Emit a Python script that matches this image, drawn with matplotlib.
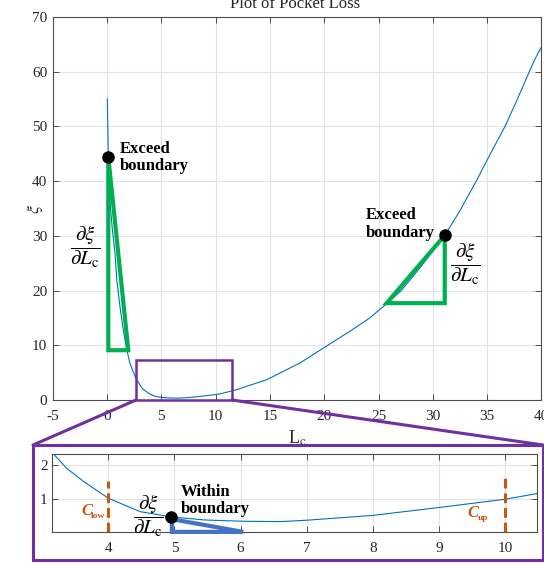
import matplotlib
matplotlib.use("Agg")
import matplotlib.pyplot as plt
from matplotlib.patches import Rectangle, Polygon, ConnectionPatch

plt.rcParams['font.family'] = ['Liberation Serif', 'DejaVu Serif']
plt.rcParams['mathtext.fontset'] = 'stix'
plt.rcParams['axes.unicode_minus'] = False

# ---- data ----
Lc = [0.03, 0.12, 0.28, 0.5, 0.74, 0.9, 1.2, 1.5, 1.8, 2.1, 2.6, 3.15, 3.37, 3.63,
      4.0, 4.48, 4.94, 5.44, 5.7, 6.04, 6.6, 7.0, 8.0, 9.0, 10.0, 10.5, 11.8, 14.7,
      17.8, 20.8, 22.4, 24.2, 25.75, 27.1, 29.0, 31.1, 32.5, 34.0, 35.3, 36.65,
      37.7, 38.8, 39.4, 40.0]
xi = [55.0, 44.4, 36.0, 31.0, 26.8, 22.0, 17.0, 12.8, 9.4, 6.8, 4.2, 2.36, 1.9, 1.51,
      1.03, 0.64, 0.49, 0.40, 0.38, 0.36, 0.35, 0.39, 0.53, 0.76, 1.0, 1.17, 1.8, 3.7,
      6.8, 10.6, 12.6, 15.0, 17.6, 20.0, 24.6, 30.1, 34.6, 40.0, 45.0, 50.0,
      54.6, 59.6, 62.3, 64.5]

main_xticks = [-5, 0, 5, 10, 15, 20, 25, 30, 35, 40]
main_yticks = [0, 10, 20, 30, 40, 50, 60, 70]
inset_xticks = [4, 5, 6, 7, 8, 9, 10]
inset_yticks = [1, 2]

# annotation geometry (data coordinates)
left_tri_L = [0.12, 0.12, 1.96]
left_tri_xi = [44.4, 9.1, 9.1]
right_tri_L = [31.1, 31.1, 25.75]
right_tri_xi = [30.1, 17.7, 17.7]
dots_L = [0.12, 31.1]
dots_xi = [44.4, 30.1]
zoom_box_L = [2.67, 11.5]
zoom_box_xi = [0.0, 7.3]
blue_tri_L = [4.96, 4.96, 6.04]
blue_tri_xi = [0.42, 0.05, 0.05]
inset_dot_L = [4.94]
inset_dot_xi = [0.49]
bounds_L = [4.0, 10.0]
bounds_top = [1.54, 1.64]

GREEN = '#00B050'
PURPLE = '#7030A0'
ORANGE = '#C65911'
BLUE = '#4472C4'
LINE = '#0072BD'
TXT = '#262626'

W, H = 544, 566
fig = plt.figure(figsize=(W / 100, H / 100), dpi=100)


def fx(px):
    return px / W


def fy(py):
    return 1 - py / H


def style_axes(ax):
    ax.grid(True, color='#e3e3e3', linewidth=0.8)
    ax.set_axisbelow(True)
    for s in ax.spines.values():
        s.set_color('#4d4d4d')
        s.set_linewidth(0.8)
    ax.tick_params(direction='in', length=4, width=0.7, colors='#4d4d4d',
                   labelcolor=TXT, top=True, right=True, labelsize=11)


# ---- main axes ----
ax = fig.add_axes([fx(52.7), fy(400), fx(541.4) - fx(52.7), fy(17) - fy(400)])
ax.set_zorder(0)
ax.plot(Lc, xi, color=LINE, linewidth=0.8, zorder=3)
ax.set_xlim(-5, 40)
ax.set_ylim(0, 70)
ax.set_xticks(main_xticks)
ax.set_yticks(main_yticks)
style_axes(ax)
ax.tick_params(axis='x', pad=7)
ax.tick_params(axis='y', pad=4)
ax.set_xlabel(r'L$_{\mathrm{c}}$', fontsize=13, color=TXT, labelpad=4)
ax.set_ylabel(r'$\xi$', fontsize=13, color=TXT)
ax.yaxis.set_label_coords(-0.016, 0.5)
fig.text(0.543, fy(4), 'Plot of Pocket Loss', ha='center', va='center',
         fontsize=12, color=TXT)

ax.add_patch(Polygon(list(zip(left_tri_L, left_tri_xi)), closed=True, fill=False,
                     edgecolor=GREEN, linewidth=3, joinstyle='miter', zorder=4))
ax.add_patch(Polygon(list(zip(right_tri_L, right_tri_xi)), closed=True, fill=False,
                     edgecolor=GREEN, linewidth=3, joinstyle='miter', zorder=4))
ax.plot(dots_L, dots_xi, 'o', color='black', markersize=8, zorder=5)
ax.add_patch(Rectangle((zoom_box_L[0], zoom_box_xi[0]), zoom_box_L[1] - zoom_box_L[0],
                       zoom_box_xi[1] - zoom_box_xi[0], fill=False, edgecolor=PURPLE,
                       linewidth=1.8, zorder=4, clip_on=False))

ax.text(1.2, 47.3, 'Exceed\nboundary', fontsize=12, fontweight='bold',
        ha='left', va='top', linespacing=1.1, zorder=6)
ax.text(23.8, 35.2, 'Exceed\nboundary', fontsize=12, fontweight='bold',
        ha='left', va='top', linespacing=1.1, zorder=6)
frac = r'$\dfrac{\partial\xi}{\partial L_{\mathrm{c}}}$'
ax.text(-2.0, 28.0, frac, fontsize=15, ha='center', va='center', zorder=6)
ax.text(33.0, 24.9, frac, fontsize=15, ha='center', va='center', zorder=6)

# ---- outer purple frame and connectors ----
frame = Rectangle((fx(33), fy(560)), fx(543) - fx(33), fy(445) - fy(560),
                  transform=fig.transFigure, facecolor='white', edgecolor=PURPLE,
                  linewidth=2.2, zorder=1)
fig.add_artist(frame)
for (bx, tx) in [(zoom_box_L[0], 33), (zoom_box_L[1], 543)]:
    cp = ConnectionPatch(xyA=(bx, 0), coordsA=ax.transData,
                         xyB=(fx(tx), fy(445)), coordsB=fig.transFigure,
                         color=PURPLE, linewidth=2.2)
    cp.set_zorder(1)
    fig.add_artist(cp)

# ---- inset axes ----
ins = fig.add_axes([fx(51.7), fy(532), fx(537.3) - fx(51.7), fy(453.6) - fy(532)])
ins.set_zorder(2)
ins.plot(Lc, xi, color=LINE, linewidth=0.8, zorder=3)
ins.set_xlim(3.142, 10.49)
ins.set_ylim(0.047, 2.33)
ins.set_xticks(inset_xticks)
ins.set_yticks(inset_yticks)
style_axes(ins)
ins.tick_params(axis='x', pad=7)
ins.tick_params(axis='y', pad=3)

ins.add_patch(Polygon(list(zip(blue_tri_L, blue_tri_xi)), closed=True, fill=False,
                      edgecolor=BLUE, linewidth=3, joinstyle='miter', zorder=4,
                      clip_on=False))
ins.plot(inset_dot_L, inset_dot_xi, 'o', color='black', markersize=8, zorder=5)
for bL, bt in zip(bounds_L, bounds_top):
    ins.plot([bL, bL], [0.047, bt], color=ORANGE, linewidth=2.2,
             linestyle=(0, (3.2, 1.6)), zorder=4)

ins.text(5.09, 1.45, 'Within\nboundary', fontsize=12, fontweight='bold',
         ha='left', va='top', linespacing=1.1, zorder=6)
ins.text(4.61, 0.52, frac, fontsize=15, ha='center', va='center', zorder=6)

ins.text(3.67, 0.66, 'C', fontsize=12, fontweight='bold', fontstyle='italic',
         color=ORANGE, ha='center', va='center', zorder=6)
ins.text(3.74, 0.52, 'low', fontsize=6.8, fontweight='bold',
         color=ORANGE, ha='left', va='center', zorder=6)
ins.text(9.52, 0.60, 'C', fontsize=12, fontweight='bold', fontstyle='italic',
         color=ORANGE, ha='center', va='center', zorder=6)
ins.text(9.59, 0.46, 'up', fontsize=6.8, fontweight='bold',
         color=ORANGE, ha='left', va='center', zorder=6)

fig.savefig('out.png', dpi=100)
